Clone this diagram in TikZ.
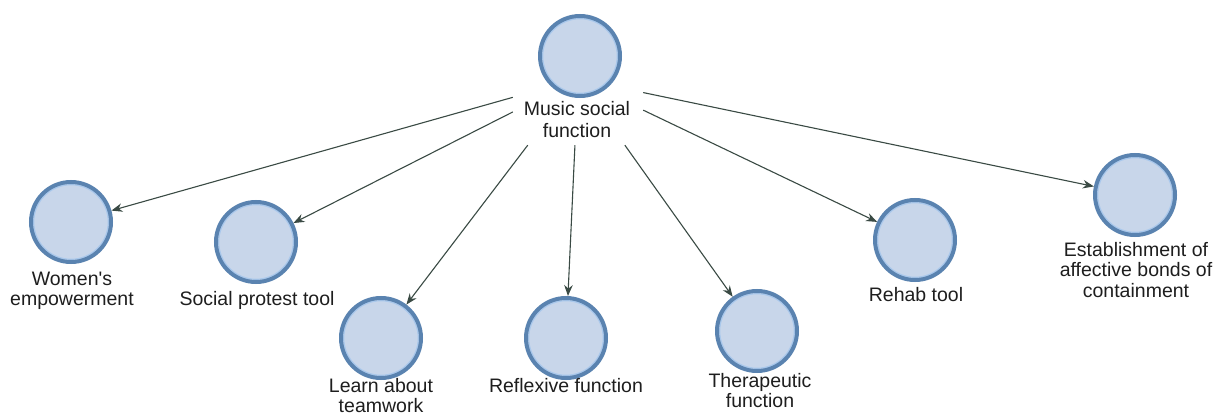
\documentclass[tikz,border=0pt]{standalone}
\usepackage{fontspec}
\setmainfont{Liberation Sans}[Ligatures=TeXOff]
\usetikzlibrary{arrows.meta}
\definecolor{ringblue}{HTML}{5A83B0}
\definecolor{fillblue}{HTML}{C8D6EA}
\definecolor{innerring}{HTML}{A9C8EC}
\definecolor{arrowcol}{HTML}{3A4A44}
\definecolor{textcol}{HTML}{1E1E1E}
\tikzset{
  bubble/.style={circle, draw=ringblue, line width=4pt, fill=fillblue,
    minimum size=80pt, inner sep=0pt,
    path picture={\draw[innerring, line width=1.2pt] (path picture bounding box.center) circle (37.3pt);}},
  lbl/.style={anchor=north, align=center, inner sep=0pt, text=textcol,
    font=\fontsize{19.5}{19.5}\selectfont},
  hubbox/.style={rectangle, draw=none, minimum width=130pt, minimum height=132pt, inner sep=0pt},
  link/.style={draw=arrowcol, line width=1.1pt, -{Stealth[length=11pt,width=8.5pt]}}
}
\begin{document}
\begin{tikzpicture}[x=1pt,y=-1pt]
\useasboundingbox[fill=white] (0,0) rectangle (1219,417);
% hub
\node[hubbox] (hub) at (578,79) {};
\node[bubble] (hubc) at (580,56) {};
\node[lbl, font=\fontsize{19.5}{22}\selectfont] (hubl) at (577,101) {Music social\\function};
% targets
\node[bubble] (women) at (71,222) {};
\node[lbl] (womenl) at (72,272) {Women's\\empowerment};
\node[bubble] (protest) at (256,242) {};
\node[lbl] (protestl) at (257,291) {Social protest tool};
\node[bubble] (team) at (381,338) {};
\node[lbl] (teaml) at (381,378.5) {Learn about\\teamwork};
\node[bubble] (reflex) at (566,338) {};
\node[lbl] (reflexl) at (566,378) {Reflexive function};
\node[bubble] (thera) at (757,331) {};
\node[lbl, font=\fontsize{19.5}{20.5}\selectfont] (theral) at (760,373) {Therapeutic\\function};
\node[bubble] (rehab) at (915,240) {};
\node[lbl] (rehabl) at (916,287) {Rehab tool};
\node[bubble] (bonds) at (1135,195) {};
\node[lbl, font=\fontsize{19.5}{20.5}\selectfont] (bondsl) at (1136,242) {Establishment of\\affective bonds of\\containment};
% connectors
\foreach \t in {women,protest,team,reflex,thera,rehab,bonds}
  \draw[link] (hub) -- (\t);
\end{tikzpicture}
\end{document}
